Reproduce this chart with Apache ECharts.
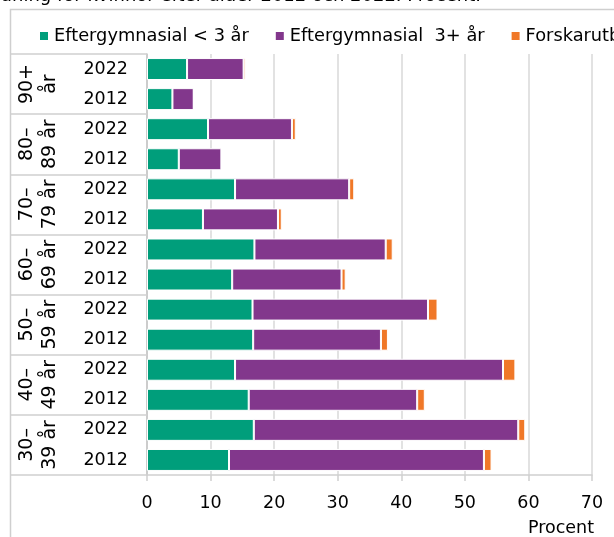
<!DOCTYPE html>
<html>
<head>
<meta charset="utf-8">
<script src="https://cdn.jsdelivr.net/npm/echarts@6/dist/echarts.min.js"></script>
<style>
html,body{margin:0;padding:0;background:#fff;}
#chart{width:614px;height:537px;}
</style>
</head>
<body>
<div id="chart"></div>
<script>
// Data (bottom to top on the chart)
const years = ['2012','2022','2012','2022','2012','2022','2012','2022','2012','2022','2012','2022','2012','2022'];
const ageGroups = ['30–\n39 år','40–\n49 år','50–\n59 år','60–\n69 år','70–\n79 år','80–\n89 år','90+\når'];
const seriesNames = ['Eftergymnasial < 3 år','Eftergymnasial  3+ år','Forskarutbildning'];
const eftergym3minus = [12.9, 16.8, 16.0, 13.85, 16.7, 16.6, 13.4, 16.9, 8.8, 13.85, 5.0, 9.6, 4.0, 6.3];
const eftergym3plus  = [40.1, 41.6, 26.5, 42.15, 20.1, 27.6, 17.2, 20.65, 11.8, 17.95, 6.7, 13.2, 3.35, 8.9];
const forskarutb     = [1.2, 1.1, 1.2, 1.95, 1.1, 1.5, 0.65, 1.1, 0.6, 0.8, 0.05, 0.6, 0.05, 0.3];
const xTicks = { min: 0, max: 70, interval: 10 };
const titleText = 'Andel med eftergymnasial utbildning för kvinnor efter ålder 2012 och 2022. Procent.';
const colors = ['#009E7B', '#82378C', '#F07828'];

const FONT = 'DejaVu Sans';
const FS = 17.5;
const chart = echarts.init(document.getElementById('chart'), null, {renderer: 'canvas'});
const values = [eftergym3minus, eftergym3plus, forskarutb];

chart.setOption({
  animation: false,
  color: colors,
  textStyle: { fontFamily: FONT },
  title: {
    text: titleText,
    right: 128,
    top: -18,
    textStyle: { fontFamily: FONT, fontSize: 18, fontWeight: 'normal', color: '#000' }
  },
  graphic: [{
    type: 'rect',
    shape: { x: 10.5, y: 9.5, width: 700, height: 600 },
    style: { fill: 'none', stroke: '#cfcfcf', lineWidth: 1.5 },
    z: -1
  }],
  legend: {
    left: 33,
    top: 22,
    width: 1200,
    itemWidth: 10,
    itemHeight: 10,
    itemGap: 25,
    icon: 'rect',
    textStyle: { fontFamily: FONT, fontSize: 17.8, color: '#000' },
    data: seriesNames
  },
  grid: { left: 147, right: 22, top: 54, bottom: 62, containLabel: false },
  xAxis: {
    type: 'value',
    min: xTicks.min, max: xTicks.max, interval: xTicks.interval,
    name: 'Procent',
    nameLocation: 'end',
    nameGap: 2,
    nameTextStyle: { fontFamily: FONT, fontSize: FS, color: '#000', align: 'right', verticalAlign: 'top', padding: [44, 0, 0, 0] },
    axisLine: { show: true, lineStyle: { color: '#d0d0d0', width: 1.5 } },
    axisTick: { show: true, length: 6, lineStyle: { color: '#d0d0d0', width: 1.5 } },
    splitLine: { show: true, lineStyle: { color: '#d9d9d9', width: 1.5 } },
    axisLabel: { fontFamily: FONT, fontSize: FS, color: '#000', margin: 19 }
  },
  yAxis: [{
    type: 'category',
    data: years,
    position: 'left',
    axisLine: { show: true, lineStyle: { color: '#c4c4c4', width: 1.5 } },
    axisTick: { show: false },
    axisLabel: { fontFamily: FONT, fontSize: FS, color: '#000', margin: 19, interval: 0 }
  }, {
    type: 'category',
    data: ageGroups,
    position: 'left',
    axisLine: { show: false },
    axisTick: { show: true, interval: 0, length: 136, lineStyle: { color: '#cfcfcf', width: 1.5 } },
    axisLabel: { fontFamily: FONT, fontSize: 19, color: '#000', rotate: 90, margin: 85, lineHeight: 23, align: 'center', interval: 0, hideOverlap: false }
  }],
  series: seriesNames.map((name, i) => ({
    name: name,
    type: 'bar',
    stack: 'total',
    yAxisIndex: 0,
    barCategoryGap: '27%',
    itemStyle: { color: colors[i], borderColor: '#ffffff', borderWidth: 1 },
    data: values[i]
  }))
});
</script>
</body>
</html>
